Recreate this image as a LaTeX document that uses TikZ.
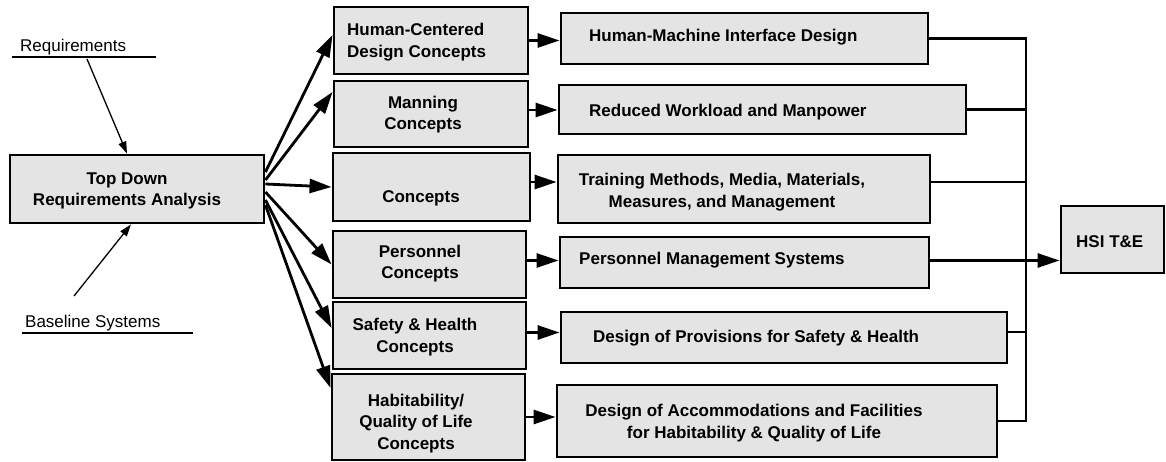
\documentclass[tikz,border=0pt]{standalone}
\usepackage{fontspec}
\setmainfont{Liberation Sans}
\usetikzlibrary{arrows.meta}
\definecolor{boxgray}{RGB}{228,228,228}
\begin{document}
\begin{tikzpicture}[x=1pt,y=-1pt,
  box/.style={draw=black, line width=2.9pt, fill=boxgray, inner sep=0pt},
  lbl/.style={font=\fontsize{17}{21.5}\selectfont\bfseries, inner sep=0pt, align=center},
  note/.style={font=\fontsize{17}{21}\selectfont, inner sep=0pt},
  flow/.style={line width=2.8pt, -{Triangle[length=22pt,width=14pt]}},
  link/.style={line width=2.8pt, line join=miter},
  feed/.style={line width=1.3pt, -{Triangle[length=12pt,width=8pt]}},
  rule/.style={line width=1.3pt},
]
\useasboundingbox (0,0) rectangle (1166,462);

% inputs on the left
\node[note, anchor=west] (reqtxt) at (20,47) {Requirements};
\coordinate (reqL) at (12,57);
\coordinate (reqR) at (156,57);
\coordinate (req) at (87,59);
\node[note, anchor=west] (basetxt) at (25,323) {Baseline Systems};
\coordinate (baseL) at (22,333);
\coordinate (baseR) at (193,333);
\coordinate (base) at (74,296);

% analysis box
\node[box, minimum width=254, minimum height=68] (td) at (137,189) {};
\node[lbl] (tdtxt) at (127,191) {Top Down\\Requirements Analysis};

% concept boxes
\node[box, minimum width=194, minimum height=67] (hc) at (431,40.5) {};
\node[lbl, anchor=west, align=left] (hctxt) at (347,42) {Human-Centered\\Design Concepts};
\node[box, minimum width=194, minimum height=66] (man) at (431,114) {};
\node[lbl] (mantxt) at (423,114.5) {Manning\\Concepts};
\node[box, minimum width=197, minimum height=68] (con) at (431.5,187) {};
\node[lbl] (contxt) at (421,198) {Concepts};
\node[box, minimum width=193, minimum height=67] (per) at (429.5,264.5) {};
\node[lbl] (pertxt) at (420,263.5) {Personnel\\Concepts};
\node[box, minimum width=193, minimum height=67] (saf) at (429.5,335.5) {};
\node[lbl] (saftxt) at (415,337) {Safety \& Health\\Concepts};
\node[box, minimum width=193, minimum height=86] (hab) at (428.5,417) {};
\node[lbl] (habtxt) at (416,423.5) {Habitability/\\Quality of Life\\Concepts};

% design areas
\node[box, minimum width=367, minimum height=51] (hmi) at (744.5,38.5) {};
\node[lbl, anchor=west] (hmitxt) at (589,37.5) {Human-Machine Interface Design};
\node[box, minimum width=407, minimum height=49] (red) at (762.5,109.5) {};
\node[lbl, anchor=west] (redtxt) at (589,112) {Reduced Workload and Manpower};
\node[box, minimum width=372, minimum height=68] (tra) at (744,189) {};
\node[lbl] (tratxt) at (722,192) {Training Methods, Media, Materials,\\Measures, and Management};
\node[box, minimum width=369, minimum height=51] (pms) at (744.5,262.5) {};
\node[lbl, anchor=west] (pmstxt) at (579,260.5) {Personnel Management Systems};
\node[box, minimum width=446, minimum height=51] (dp) at (784,337.5) {};
\node[lbl, anchor=west] (dptxt) at (593,338.5) {Design of Provisions for Safety \& Health};
\node[box, minimum width=440, minimum height=72] (da) at (777,421) {};
\node[lbl] (datxt) at (754,423) {Design of Accommodations and Facilities\\for Habitability \& Quality of Life};

% evaluation box
\node[box, minimum width=103, minimum height=67] (hsi) at (1112.5,239.5) {};
\node[lbl, anchor=west] (hsitxt) at (1076,242) {HSI T\&E};

% underlines and feeds into the analysis
\draw[rule] (reqL) -- (reqR);
\draw[rule] (baseL) -- (baseR);
\draw[feed] (req) -- ([xshift=-10pt]td.north);
\draw[feed] (base) -- ([xshift=-6pt]td.south);

% fan out to the concept boxes
\draw[flow] ([yshift=17pt]td.east) -- ([yshift=5.5pt]hc.west);
\draw[flow] ([yshift=9pt]td.east) -- ([yshift=22pt]man.west);
\draw[flow] ([yshift=5pt]td.east) -- (con.west);
\draw[flow] ([yshift=-3pt]td.east) -- (per.west);
\draw[flow] ([yshift=-11pt]td.east) -- ([yshift=7.5pt]saf.west);
\draw[flow] ([yshift=-16pt]td.east) -- ([yshift=29pt]hab.west);

% concepts to design areas
\draw[flow] (hc.east) -- (hc.east -| hmi.west);
\draw[flow] ([yshift=4pt]man.east) -- ([yshift=4pt]man.east -| red.west);
\draw[flow] ([yshift=5pt]con.east) -- ([yshift=5pt]con.east -| tra.west);
\draw[flow] ([yshift=4pt]per.east) -- ([yshift=4pt]per.east -| pms.west);
\draw[flow] ([yshift=3pt]saf.east) -- ([yshift=3pt]saf.east -| dp.west);
\draw[flow] (hab.east) -- (hab.east -| da.west);

% collecting bus
\coordinate (bus) at (1026,0);
\draw[link] (hmi.east) -- (hmi.east -| bus) -- (da.east -| bus) -- (da.east);
\draw[link] (red.east) -- (red.east -| bus);
\draw[link] ([yshift=7pt]tra.east) -- ([yshift=7pt]tra.east -| bus);
\draw[link] ([yshift=5.5pt]dp.east) -- ([yshift=5.5pt]dp.east -| bus);
\draw[flow] ([yshift=2pt]pms.east) -- ([yshift=2pt]pms.east -| hsi.west);
\end{tikzpicture}
\end{document}
